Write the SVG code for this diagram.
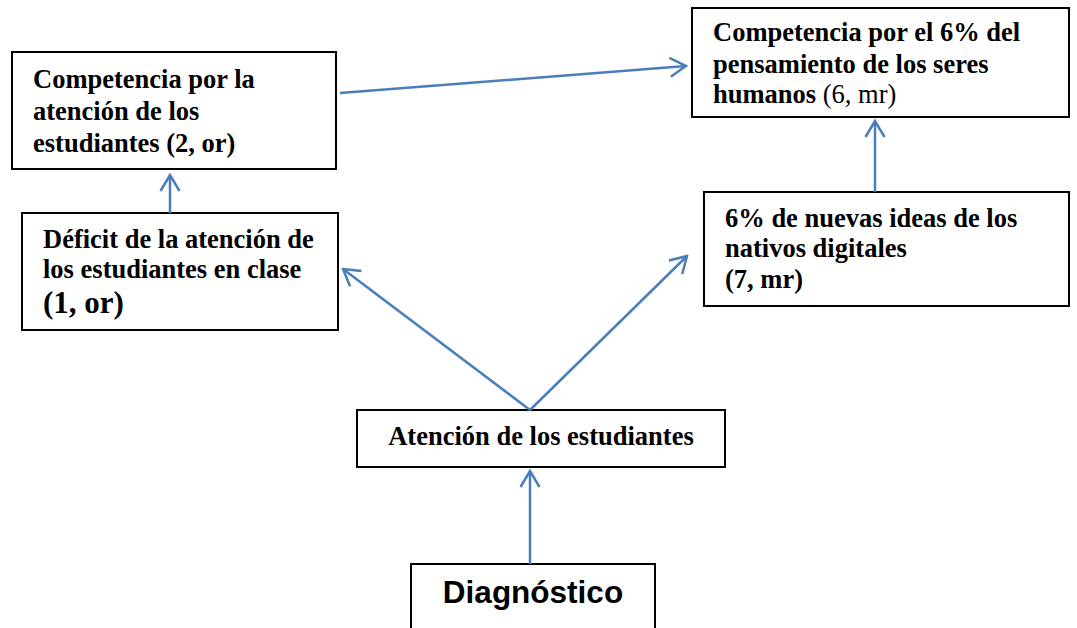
<svg xmlns="http://www.w3.org/2000/svg" width="1077" height="628" viewBox="0 0 1077 628">
<style>
.box{fill:#fff;stroke:#000;stroke-width:2}
.t{font-family:"Liberation Serif","Times New Roman",serif;font-weight:bold;font-size:26.5px;fill:#000}
.n{font-weight:normal}
.big{font-size:31px}
.d{font-family:"Liberation Sans",Arial,sans-serif;font-weight:bold;font-size:31.5px;fill:#000}
.c{stroke:#4A7EBB;stroke-width:2.5;fill:none}
</style>
<defs>
<marker id="a" viewBox="-18 -11 20 22" markerWidth="20" markerHeight="22" refX="0" refY="0" orient="auto" markerUnits="userSpaceOnUse">
<path d="M-16,-9.5 L0,0 L-16,9.5" fill="none" stroke="#4A7EBB" stroke-width="2.5"/>
</marker>
</defs>
<rect width="1077" height="628" fill="#fff"/>
<g id="n1">
<rect class="box" x="12" y="52" width="324" height="117"/>
<text class="t" x="33" y="88">Competencia por la</text>
<text class="t" x="33" y="120">atención de los</text>
<text class="t" x="33" y="152">estudiantes (2, or)</text>
</g>
<g id="n2">
<rect class="box" x="692" y="8" width="377" height="109"/>
<text class="t" x="713" y="41">Competencia por el 6% del</text>
<text class="t" x="713" y="73">pensamiento de los seres</text>
<text class="t" x="713" y="103">humanos<tspan class="n"> (6, mr)</tspan></text>
</g>
<g id="n3">
<rect class="box" x="22" y="213" width="316" height="117"/>
<text class="t" x="43" y="248">Déficit de la atención de</text>
<text class="t" x="43" y="278">los estudiantes en clase</text>
<text class="t big" x="43" y="313">(1, or)</text>
</g>
<g id="n4">
<rect class="box" x="704" y="192" width="365" height="114"/>
<text class="t" x="725" y="227">6% de nuevas ideas de los</text>
<text class="t" x="725" y="257">nativos digitales</text>
<text class="t" x="725" y="288">(7, mr)</text>
</g>
<g id="n5">
<rect class="box" x="357" y="410" width="368" height="57"/>
<text class="t" x="541" y="445" text-anchor="middle">Atención de los estudiantes</text>
</g>
<g id="n6">
<rect class="box" x="411" y="564" width="244" height="70"/>
<text class="d" x="533" y="603" text-anchor="middle">Diagnóstico</text>
</g>
<g id="connectors">
<line class="c" x1="530" y1="564" x2="530" y2="471" marker-end="url(#a)"/>
<line class="c" x1="530" y1="410" x2="343" y2="269" marker-end="url(#a)"/>
<line class="c" x1="530" y1="410" x2="687" y2="256" marker-end="url(#a)"/>
<line class="c" x1="170" y1="213" x2="170" y2="175" marker-end="url(#a)"/>
<line class="c" x1="340" y1="93" x2="686" y2="66" marker-end="url(#a)"/>
<line class="c" x1="875" y1="192" x2="875" y2="121" marker-end="url(#a)"/>
</g>
</svg>
